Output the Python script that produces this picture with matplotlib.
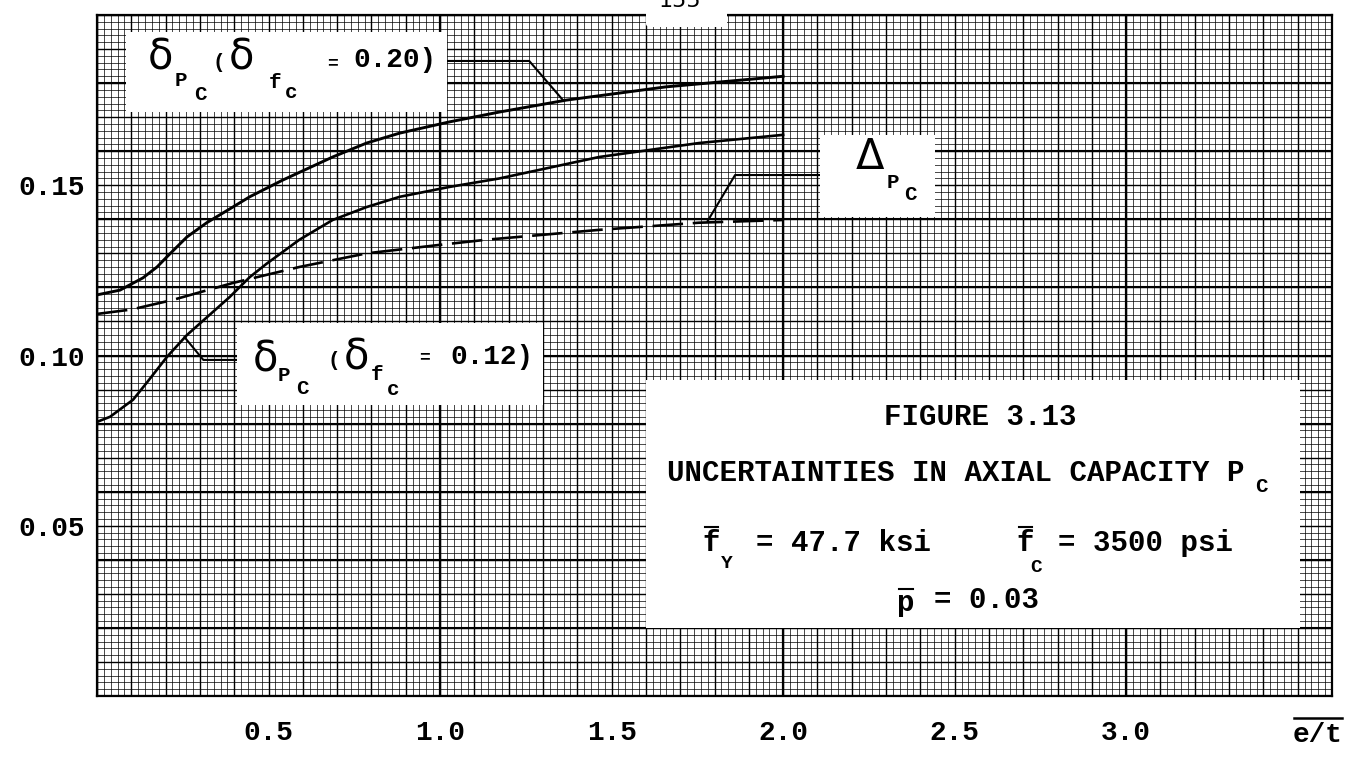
import matplotlib
matplotlib.use("Agg")
import matplotlib.pyplot as plt
import numpy as np
from matplotlib.patches import Rectangle, FancyBboxPatch
from matplotlib.lines import Line2D

plt.rcParams['lines.scale_dashes'] = False

# ---------------- data ----------------
x_d20 = [0.0, 0.067, 0.134, 0.175, 0.204, 0.262, 0.32, 0.396, 0.445, 0.541, 0.687,
         0.786, 0.882, 1.027, 1.173, 1.368, 1.659, 2.0]
y_d20 = [0.1178, 0.1192, 0.1228, 0.126, 0.129, 0.1348, 0.139, 0.1436, 0.1466, 0.1515,
         0.1583, 0.1624, 0.1653, 0.1686, 0.1715, 0.175, 0.1789, 0.182]

x_d12 = [0.0, 0.038, 0.105, 0.145, 0.204, 0.262, 0.387, 0.445, 0.495, 0.59, 0.687,
         0.786, 0.882, 1.027, 1.173, 1.464, 1.755, 2.0]
y_d12 = [0.0805, 0.082, 0.087, 0.092, 0.0996, 0.106, 0.1172, 0.123, 0.127, 0.134,
         0.1398, 0.1436, 0.1466, 0.1495, 0.152, 0.1583, 0.1624, 0.1648]

x_delta = [0.0, 0.1, 0.22, 0.396, 0.59, 0.786, 1.0, 1.135, 1.464, 1.755, 2.0]
y_delta = [0.1122, 0.1135, 0.1163, 0.1213, 0.126, 0.130, 0.1325, 0.134, 0.1369, 0.139, 0.1398]

x_ticks = [0.5, 1.0, 1.5, 2.0, 2.5, 3.0]
x_ticklabels = ["0.5", "1.0", "1.5", "2.0", "2.5", "3.0"]
y_ticks = [0.05, 0.10, 0.15]
y_ticklabels = ["0.05", "0.10", "0.15"]

# leader lines (data coordinates): label -> curve
lead_d20 = ([1.02, 1.26, 1.36], [0.1865, 0.1865, 0.1748])
lead_delta = ([2.11, 1.86, 1.78], [0.153, 0.153, 0.1395])
lead_d12 = ([0.255, 0.31, 0.41], [0.1054, 0.0987, 0.0987])

# ---------------- figure ----------------
W, H = 1356, 762
fig = plt.figure(figsize=(W / 100, H / 100), dpi=100)
fig.patch.set_facecolor("white")

L, R, T, B = 97, 1332, 15, 696
ax = fig.add_axes([L / W, 1 - B / H, (R - L) / W, (B - T) / H])
ax.set_xlim(0, 3.6)
ax.set_ylim(0, 0.2)

def P(x, y):
    return (x / W, 1 - y / H)

MONO = "Liberation Mono"

# graph-paper grid
ax.vlines(np.arange(0, 3.6001, 0.02), 0, 0.2, color="black", lw=0.5, zorder=1)
ax.hlines(np.arange(0, 0.2001, 0.002), 0, 3.6, color="black", lw=0.5, zorder=1)
ax.vlines(np.arange(0, 3.6001, 0.1), 0, 0.2, color="black", lw=1.0, zorder=1)
ax.hlines(np.arange(0, 0.2001, 0.01), 0, 3.6, color="black", lw=1.0, zorder=1)
ax.vlines(np.arange(0, 3.6001, 1.0), 0, 0.2, color="black", lw=1.6, zorder=1)
ax.hlines(np.arange(0, 0.2001, 0.02), 0, 3.6, color="black", lw=1.5, zorder=1)

for s in ax.spines.values():
    s.set_linewidth(1.6)
    s.set_color("black")
    s.set_zorder(6)

ax.set_xticks(x_ticks)
ax.set_xticklabels(x_ticklabels, fontfamily=MONO, fontsize=20, fontweight="bold")
ax.set_yticks(y_ticks)
ax.set_yticklabels(y_ticklabels, fontfamily=MONO, fontsize=20, fontweight="bold")
ax.tick_params(axis="x", length=0, pad=17)
ax.tick_params(axis="y", length=0, pad=9)

# curves
ax.plot(x_d20, y_d20, color="black", lw=2.1, zorder=4, solid_joinstyle="round")
ax.plot(x_d12, y_d12, color="black", lw=1.9, zorder=4, solid_joinstyle="round")
ax.plot(x_delta, y_delta, color="black", lw=1.9, zorder=4, dashes=(22, 7))

for lx, ly in (lead_d20, lead_delta, lead_d12):
    ax.plot(lx, ly, color="black", lw=1.5, zorder=4)

# white label boxes (pixel coordinates)
def wbox(x0, y0, x1, y1):
    fig.patches.append(Rectangle(P(x0, y1), (x1 - x0) / W, (y1 - y0) / H,
                                 transform=fig.transFigure, facecolor="white",
                                 edgecolor="none", zorder=3))

def txt(x, y, s, size, family=MONO, weight="bold", **kw):
    fig.text(*P(x, y), s, fontsize=size, fontfamily=family, fontweight=weight,
             ha="center", va="center", zorder=7, **kw)

def bar(x0, x1, y, lw=1.5):
    fig.lines.append(Line2D([x0 / W, x1 / W], [1 - y / H] * 2, transform=fig.transFigure,
                            color="black", lw=lw, zorder=7))

# top notch with page number
fig.patches.append(FancyBboxPatch(P(646, 27), (727 - 646) / W, 27 / H,
                                  boxstyle="round,pad=0,rounding_size=0.004",
                                  transform=fig.transFigure, facecolor="white",
                                  edgecolor="none", zorder=8))
fig.text(*P(680, 11), "155", fontsize=16, fontfamily="DejaVu Sans", ha="center",
         va="bottom", zorder=9)

# label 1: delta_Pc (delta_fc = 0.20)
wbox(126, 32, 447, 112)
txt(160, 57, "δ", 30, family="DejaVu Sans", weight="normal")
txt(181, 81, "P", 15)
txt(200, 94, "C", 15)
txt(219, 62, "(", 15)
txt(241, 57, "δ", 30, family="DejaVu Sans", weight="normal")
txt(275, 82, "f", 15)
txt(291, 93, "c", 15)
txt(332, 64, "=", 13)
txt(395, 60, "0.20)", 20)

# label 2: Delta_Pc
wbox(820, 135, 935, 217)
txt(870, 157, "Δ", 30, family="DejaVu Sans", weight="normal")
txt(893, 183, "P", 15)
txt(910, 195, "C", 15)

# label 3: delta_Pc (delta_fc = 0.12)
wbox(237, 323, 543, 405)
txt(265, 359, "δ", 30, family="DejaVu Sans", weight="normal")
txt(284, 376, "P", 15)
txt(302, 388, "C", 15)
txt(334, 360, "(", 15)
txt(356, 357, "δ", 30, family="DejaVu Sans", weight="normal")
txt(377, 374, "f", 15)
txt(393, 389, "c", 15)
txt(425, 358, "=", 13)
txt(492, 357, "0.12)", 20)

# caption box
wbox(646, 380, 1300, 628)
txt(980, 417, "FIGURE 3.13", 21)
txt(956, 473, "UNCERTAINTIES IN AXIAL CAPACITY P", 21)
txt(1261, 487, "C", 15)
txt(711, 543, "f", 21)
bar(705, 718, 527)
txt(727, 564, "Y", 14)
txt(843, 543, "= 47.7 ksi", 21)
txt(1025, 543, "f", 21)
bar(1019, 1032, 527)
txt(1036, 567, "C", 14)
txt(1146, 543, "= 3500 psi", 21)
txt(906, 603, "p", 21)
bar(899, 913, 589)
txt(987, 600, "= 0.03", 21)

# axis name e/t with overline
txt(1318, 735, "e/t", 20)
bar(1294, 1342, 718, lw=1.8)

fig.savefig("out.png", dpi=100, facecolor="white")
